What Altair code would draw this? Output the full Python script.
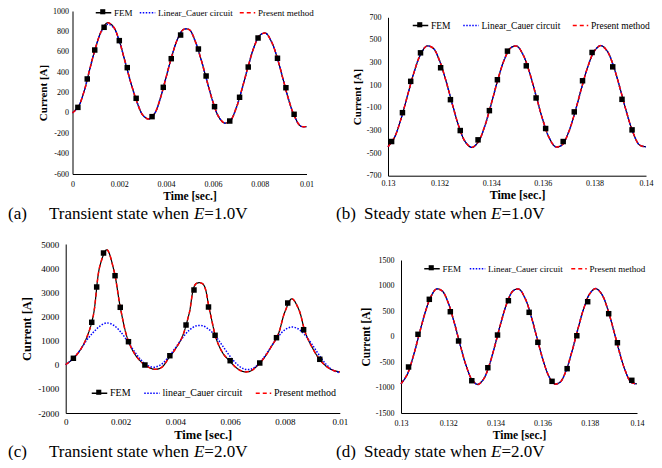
import altair as alt
import pandas as pd

# ---------------- data ----------------
T_TRANS = [round(0.00025 * i, 5) for i in range(41)]
T_STEADY = [round(0.13 + 0.00025 * i, 5) for i in range(41)]

# (a) transient, E = 1.0 V
A_PRESENT = [0, 60, 215, 440, 650, 810, 885, 845, 705, 500, 290, 110, -20, -60, -10, 140,
             350, 560, 730, 820, 815, 700, 520, 310, 110, -40, -100, -75, 50, 240, 450, 640,
             760, 783, 700, 540, 330, 120, -40, -130, -135]
A_LINEAR = [0, 60, 215, 440, 650, 805, 870, 838, 705, 500, 290, 110, -20, -60, -10, 140,
            350, 560, 730, 820, 815, 700, 520, 310, 110, -40, -100, -75, 50, 240, 450, 640,
            760, 783, 700, 540, 330, 120, -40, -130, -135]
A_FEM_T = [0.00023, 0.00063, 0.00095, 0.00135, 0.002, 0.00234, 0.00272, 0.0034, 0.00388,
           0.00422, 0.00462, 0.00538, 0.00571, 0.00607, 0.00672, 0.00714, 0.00751, 0.00793,
           0.00876, 0.00912, 0.00947]
A_FEM_I = [54, 333, 617, 840, 709, 444, 143, -37, 251, 532, 764, 627, 362, 61, -80, 153, 450,
           735, 536, 247, -14]

# (b) steady, E = 1.0 V
B_PRESENT = [-444, -362, -201, 3, 207, 366, 445, 427, 316, 136, -73, -267, -402, -450, -400,
             -262, -67, 142, 320, 429, 444, 362, 201, -3, -207, -366, -445, -427, -316, -136,
             73, 267, 402, 450, 400, 262, 67, -142, -320, -429, -444]
B_LINEAR = list(B_PRESENT)
B_FEM_T = [0.13014, 0.13056, 0.13088, 0.13126, 0.13204, 0.13242, 0.1328, 0.13349, 0.13393,
           0.13424, 0.13463, 0.13536, 0.13574, 0.13611, 0.13679, 0.13722, 0.13754, 0.13791,
           0.13871, 0.13907, 0.13946]
B_FEM_I = [-398, -143, 134, 386, 254, -28, -301, -383, -125, 148, 401, 271, -13, -283, -398,
           -136, 139, 389, 262, -25, -295]

# (c) transient, E = 2.0 V
C_PRESENT = [0, 230, 560, 1080, 2000, 4100, 4760, 3950, 2330, 1100, 480, 120, -90, -190, -110,
             260, 650, 1150, 2100, 3350, 3350, 2250, 1050, 450, 130, -150, -290, -260, -30,
             300, 750, 1250, 2200, 2730, 2300, 1300, 700, 240, -60, -230, -300]
C_LINEAR = [0, 230, 560, 990, 1330, 1600, 1730, 1634, 1365, 981, 561, 194, -44, -102, 25, 313,
            697, 1095, 1421, 1607, 1611, 1441, 1129, 738, 341, 17, -174, -189, -8, 334, 756,
            1159, 1450, 1562, 1470, 1205, 817, 391, 15, -230, -330]
C_FEM_T = [0.00028, 0.00095, 0.00113, 0.00138, 0.0018, 0.00199, 0.00229, 0.00289, 0.0038,
           0.00439, 0.00468, 0.00521, 0.00545, 0.006, 0.00708, 0.00769, 0.0081, 0.00868,
           0.00927]
C_FEM_I = [266, 1757, 3219, 4627, 3687, 2378, 953, -12, 373, 1645, 3095, 2390, 1218, 166, 71,
           1119, 2556, 1450, 224]

# (d) steady, E = 2.0 V
D_PRESENT = [-928, -757, -421, 7, 432, 764, 930, 892, 660, 284, -153, -557, -840, -940, -835,
             -547, -141, 297, 669, 896, 928, 757, 421, -7, -432, -764, -930, -892, -660, -284,
             153, 557, 840, 940, 835, 547, 141, -297, -669, -896, -928]
D_LINEAR = list(D_PRESENT)
D_FEM_T = [0.13032, 0.13072, 0.1312, 0.13209, 0.13244, 0.133, 0.13368, 0.13409, 0.13455,
           0.13543, 0.1358, 0.1364, 0.13704, 0.13745, 0.13791, 0.1388, 0.13917, 0.13978]
D_FEM_I = [-598, 43, 729, 486, -88, -867, -612, 29, 702, 474, -114, -879, -631, 15, 682, 447,
           -122, -859]

NAMES_UPPER = ["FEM", "Linear_Cauer circuit", "Present method"]
NAMES_LOWER = ["FEM", "linear_Cauer circuit", "Present method"]

X_TRANS_TICKS = [0, 0.002, 0.004, 0.006, 0.008, 0.01]
X_STEADY_TICKS = [0.13, 0.132, 0.134, 0.136, 0.138, 0.14]
Y_A_TICKS = [-600, -400, -200, 0, 200, 400, 600, 800, 1000]
Y_B_TICKS = [-700, -500, -300, -100, 100, 300, 500, 700]
Y_C_TICKS = [-2000, -1000, 0, 1000, 2000, 3000, 4000, 5000]
Y_D_TICKS = [-1500, -1000, -500, 0, 500, 1000, 1500]

# ---------------- styling / layout ----------------
SERIF = "Liberation Serif"
W, H = 646, 452
LINE_COLORS = ["#000000", "#0000ff", "#ff0000"]
LINE_DASHES = [[1, 0], [1.5, 1.5], [4, 3]]
LINE_WIDTHS = [1.2, 1.5, 1.5]
SYM = 240

KEY = pd.DataFrame({"k": [0]})


def panel(t, present, linear, fem_t, fem_i, names, xdom, ydom, xticks, yticks,
          xr, yr, lab_size, xt_size, yt_size, xpad, ypad, leg):
    n = len(t)
    curves = pd.DataFrame({
        "t": t * 3,
        "I": present + linear + present,
        "s": [names[0]] * n + [names[1]] * n + [names[2]] * n,
    })
    pts = pd.DataFrame({"t": fem_t, "I": fem_i})

    xs = alt.Scale(domain=xdom, range=xr, zero=False, nice=False)
    ys = alt.Scale(domain=ydom, range=yr, zero=False, nice=False)
    common = dict(grid=False, ticks=False, domainColor="#000000", domainWidth=1,
                  labelFont=SERIF, labelColor="#000000", labelFontSize=lab_size,
                  labelExpr="'' + datum.value", labelFlush=False, labelOverlap=False,
                  titleFont=SERIF, titleFontWeight="bold", titleColor="#000000")
    x_axis = alt.Axis(orient="bottom", offset=yr[0] - H, values=xticks,
                      title="Time [sec.]", titleFontSize=xt_size, labelPadding=xpad,
                      titlePadding=2, **common)
    y_axis = alt.Axis(orient="left", offset=-xr[0], values=yticks,
                      title="Current [A]", titleFontSize=yt_size, labelPadding=ypad,
                      titlePadding=4, **common)
    legend = alt.Legend(title=None, orient="none", legendX=leg[0], legendY=leg[1],
                        direction="horizontal", symbolType="stroke", symbolSize=SYM,
                        symbolStrokeWidth=1.5, labelFont=SERIF, labelFontSize=leg[3],
                        labelColor="#000000", columnPadding=leg[2], labelOffset=2,
                        padding=0, labelLimit=0)
    color = alt.Color("s:N", scale=alt.Scale(domain=names, range=LINE_COLORS), legend=legend)
    dash = alt.StrokeDash("s:N", scale=alt.Scale(domain=names, range=LINE_DASHES),
                          legend=legend)
    x = alt.X("t:Q", scale=xs, axis=x_axis)
    y = alt.Y("I:Q", scale=ys, axis=y_axis)

    layers = []
    for name, w in zip(names, LINE_WIDTHS):
        layers.append(
            alt.Chart(curves).transform_filter(alt.datum.s == name)
            .mark_line(strokeWidth=w, interpolate="catmull-rom")
            .encode(x=x, y=y, color=color, strokeDash=dash)
        )
    layers.append(
        alt.Chart(pts).mark_point(shape="square", filled=True, size=30, color="#000000",
                                  opacity=1).encode(x=x, y=y)
    )
    # square marker on the FEM legend key
    layers.append(
        alt.Chart(KEY).mark_point(shape="square", filled=True, size=26, color="#000000",
                                  opacity=1)
        .encode(x=alt.value(leg[0] + SYM ** 0.5 / 2), y=alt.value(leg[1] + SYM ** 0.5 / 2))
    )
    return alt.layer(*layers)


pa = panel(T_TRANS, A_PRESENT, A_LINEAR, A_FEM_T, A_FEM_I, NAMES_UPPER, [0, 0.01],
           [-600, 1000], X_TRANS_TICKS, Y_A_TICKS, [64.5, 298.5], [166, 3],
           8, 11.5, 11, 6, 4, (87, -4, 3, 9))
pb = panel(T_STEADY, B_PRESENT, B_LINEAR, B_FEM_T, B_FEM_I, NAMES_UPPER, [0.13, 0.14],
           [-700, 700], X_STEADY_TICKS, Y_B_TICKS, [380, 638], [167.7, 9.3],
           8, 12, 11, 4, 7, (404, 9, 8.5, 9.5))
pc = panel(T_TRANS, C_PRESENT, C_LINEAR, C_FEM_T, C_FEM_I, NAMES_LOWER, [0, 0.01],
           [-2000, 5000], X_TRANS_TICKS, Y_C_TICKS, [57.7, 331.8], [405, 236],
           9, 12.5, 12.5, 4, 7, (83, 376.5, 9.5, 10))
pd_ = panel(T_STEADY, D_PRESENT, D_LINEAR, D_FEM_T, D_FEM_I, NAMES_UPPER, [0.13, 0.14],
            [-1500, 1500], X_STEADY_TICKS, Y_D_TICKS, [393, 629], [405, 252],
            8, 11.5, 11.5, 6, 7, (415.5, 252, 4.5, 9))

CAP = pd.DataFrame({"k": [0]})
CAP_SIZE = 17


def txt(s, x, y, style="normal"):
    return alt.Chart(CAP).mark_text(
        text=s, font=SERIF, fontSize=CAP_SIZE, fontStyle=style, align="left",
        baseline="alphabetic", color="#000000"
    ).encode(x=alt.value(x), y=alt.value(y))


EM = CAP_SIZE
captions = []
for lab, head, volt, x0, xt, y0 in [
    ("(a)", "Transient state when", "=1.0V", 0, 41, 211),
    ("(b)", "Steady state when", "=1.0V", 328, 356, 211),
    ("(c)", "Transient state when", "=2.0V", 0, 41, 448.5),
    ("(d)", "Steady state when", "=2.0V", 328, 356, 448.5),
]:
    head_w = (8.526 if head.startswith("Transient") else 7.471) * EM
    captions += [
        txt(lab, x0, y0),
        txt(head, xt, y0),
        txt("E", xt + head_w, y0, "italic"),
        txt(volt, xt + head_w + 0.611 * EM, y0),
    ]

chart = (
    alt.layer(pa, pb, pc, pd_, *captions)
    .resolve_scale(x="independent", y="independent", color="independent",
                   strokeDash="independent")
    .properties(width=W, height=H, padding=0, autosize=alt.AutoSizeParams(type="none"),
                background="#ffffff")
    .configure_view(stroke=None)
)

chart.save("out.html", embed_options={"renderer": "svg", "actions": False})
